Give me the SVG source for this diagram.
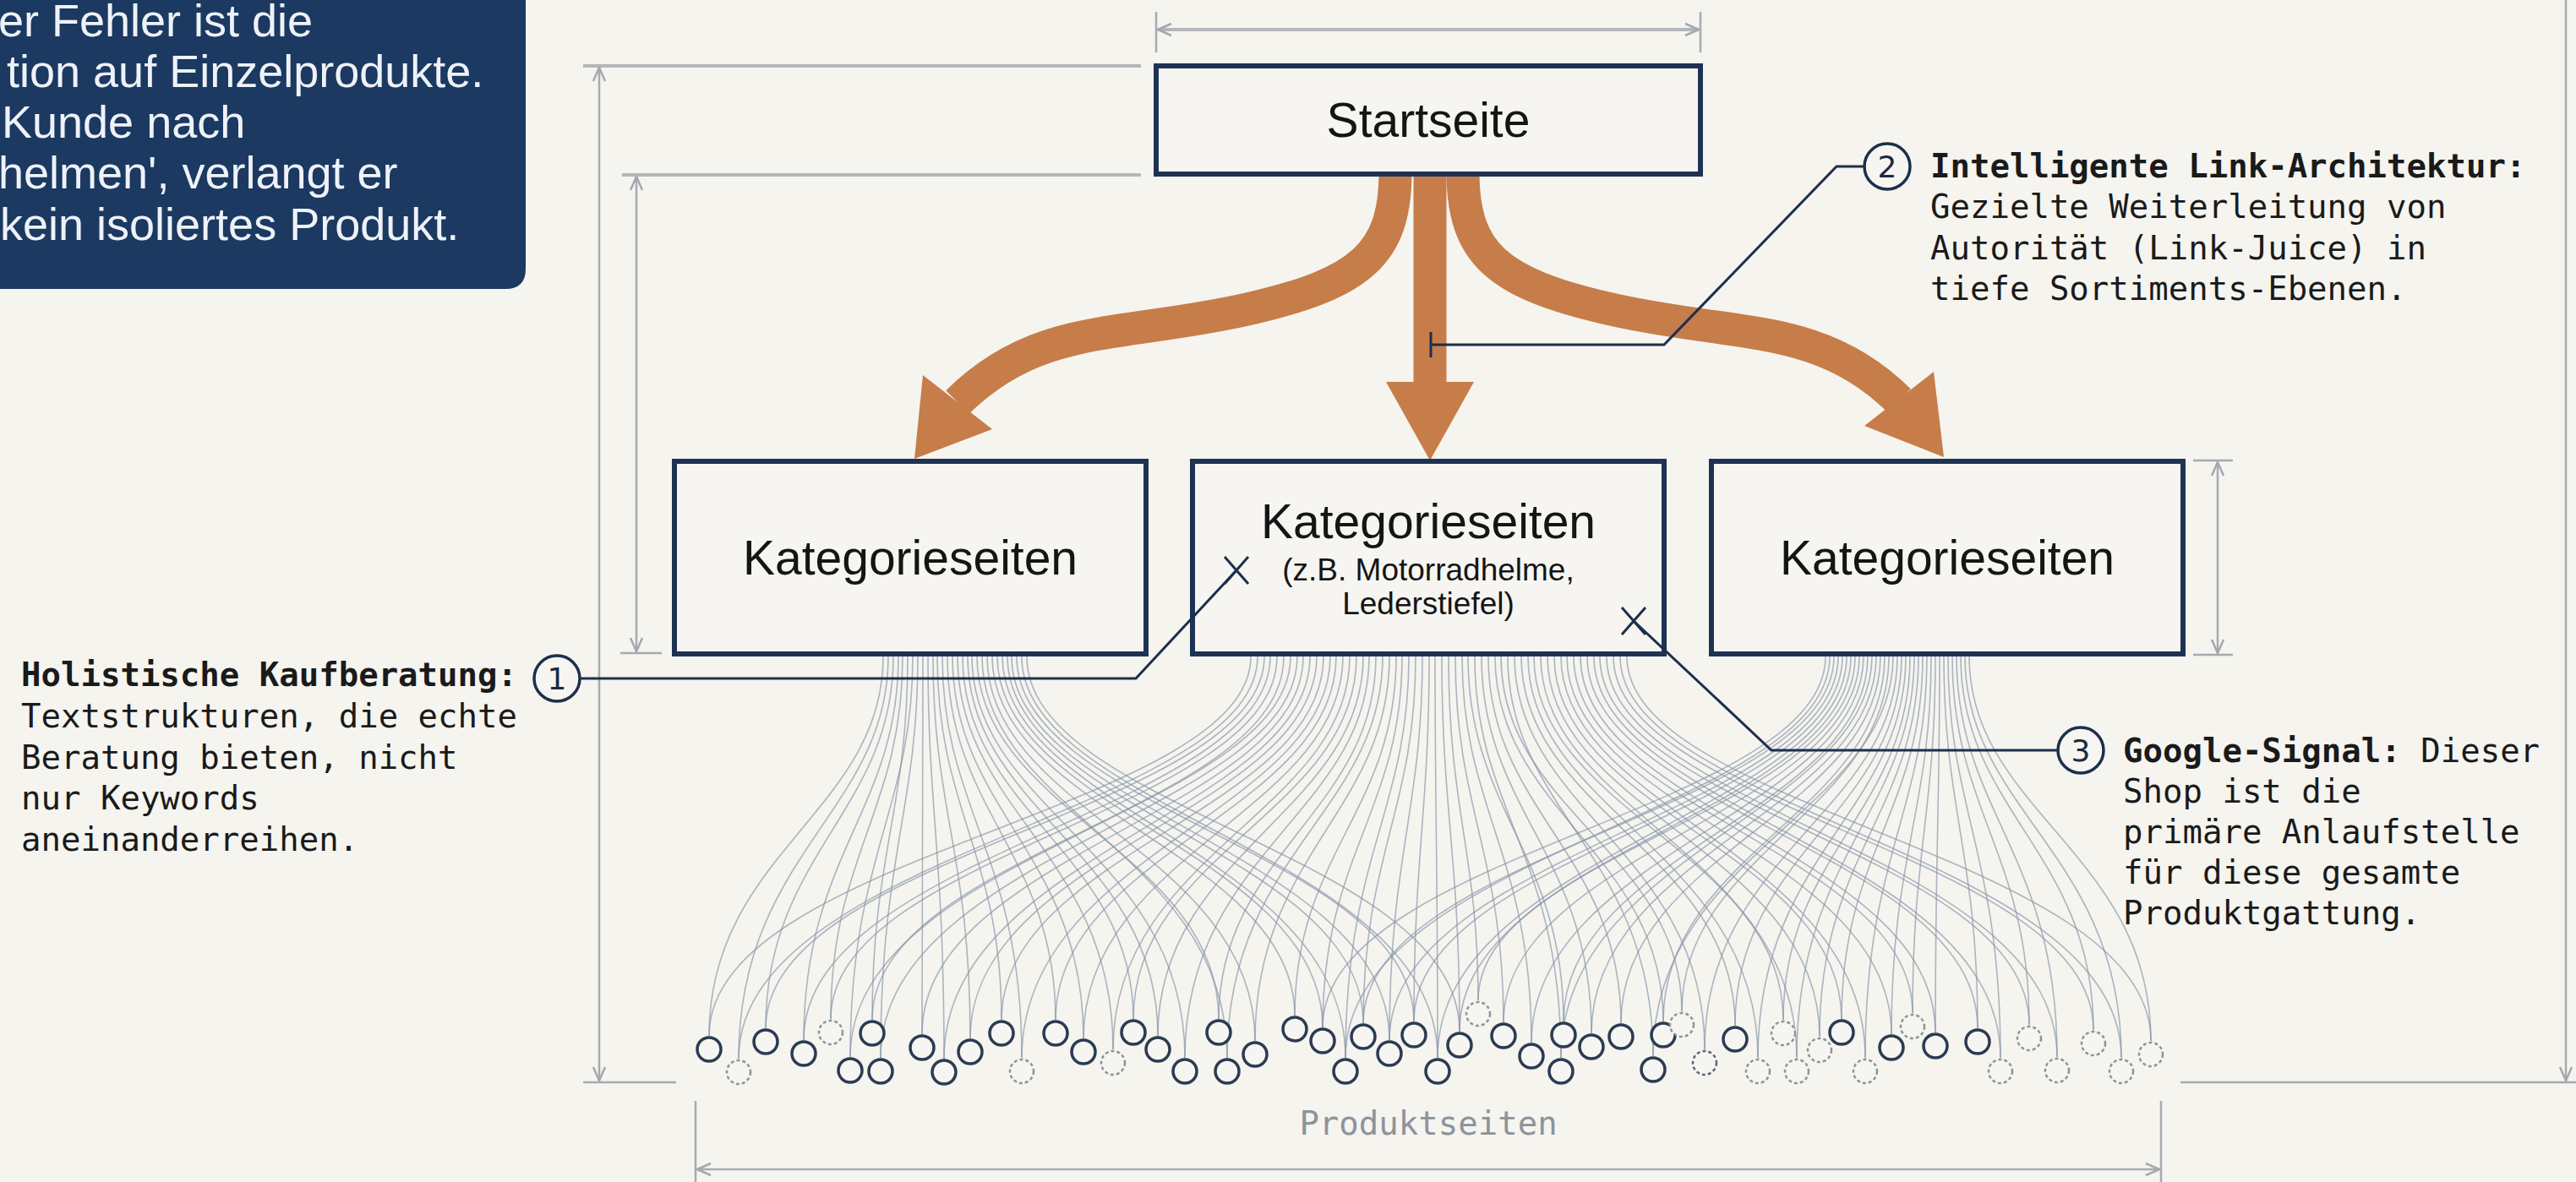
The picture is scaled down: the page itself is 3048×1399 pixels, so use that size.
<svg xmlns="http://www.w3.org/2000/svg" width="3048" height="1399" viewBox="0 0 3048 1399">
<style>
.title{font-family:"Liberation Sans",Arial,sans-serif;font-size:57px;fill:#151515;text-anchor:middle}
.sub{font-family:"Liberation Sans",Arial,sans-serif;font-size:37px;fill:#151515;text-anchor:middle}
.dark{font-family:"Liberation Sans",Arial,sans-serif;font-size:54px;fill:#eef2f8}
.mono{font-family:"DejaVu Sans Mono","Liberation Mono",monospace;font-size:39px;fill:#1a1a1a}
.b{font-weight:bold}
.num{font-family:"DejaVu Sans",sans-serif;font-size:36px;fill:#1a2a44;text-anchor:middle}
.box{fill:#f6f5f1;stroke:#1e3354;stroke-width:6}
.dim{stroke:#a7abb0;stroke-width:2.5;fill:none}
.dimt{stroke:#b3b6ba;stroke-width:4;fill:none}
.fan path{stroke:#8795a8;stroke-width:1.6;fill:none;opacity:.68}
.lead{stroke:#1d2f4c;stroke-width:3;fill:none}
.arrow{stroke:#c67d49;fill:none;stroke-width:39}
.ahead{fill:#c67d49}
.p{fill:#f6f5f1;stroke:#2b3b52;stroke-width:3.5}
.pd{fill:#f6f5f1;stroke:#8e949c;stroke-width:2.5;stroke-dasharray:4 3}
.callout{fill:#f6f5f1;stroke:#1d2f4c;stroke-width:3.5}
</style>
<defs>
<marker id="dimArrow" viewBox="0 0 20 20" refX="19" refY="10" markerWidth="20" markerHeight="20" markerUnits="userSpaceOnUse" orient="auto-start-reverse">
<path d="M3 3 L19 10 L3 17" fill="none" stroke="#a3a8ae" stroke-width="2.5"/>
</marker>
</defs>
<rect width="3048" height="1399" fill="#f5f4ef"/>

<g id="info-box">
<path d="M-20 -20 H622 V318 Q622 342 598 342 H-20 Z" fill="#1b3961"/>
<text class="dark" x="-2" y="43">er Fehler ist die</text>
<text class="dark" x="8" y="103">tion auf Einzelprodukte.</text>
<text class="dark" x="2" y="163">Kunde nach</text>
<text class="dark" x="-2" y="223">helmen', verlangt er</text>
<text class="dark" x="0" y="284">kein isoliertes Produkt.</text>
</g>

<g id="dimensions">
<line class="dim" x1="1368" y1="14" x2="1368" y2="62"/>
<line class="dim" x1="2012" y1="14" x2="2012" y2="62"/>
<line class="dimt" x1="1370" y1="35" x2="2010" y2="35" marker-start="url(#dimArrow)" marker-end="url(#dimArrow)"/>
<line class="dimt" x1="690" y1="78" x2="1350" y2="78"/>
<line class="dimt" x1="736" y1="207" x2="1350" y2="207"/>
<line class="dim" x1="709" y1="80" x2="709" y2="1279" marker-start="url(#dimArrow)" marker-end="url(#dimArrow)"/>
<line class="dim" x1="690" y1="1281" x2="800" y2="1281"/>
<line class="dim" x1="753" y1="209" x2="753" y2="771" marker-start="url(#dimArrow)" marker-end="url(#dimArrow)"/>
<line class="dim" x1="734" y1="773" x2="783" y2="773"/>
<line class="dim" x1="2595" y1="545" x2="2642" y2="545"/>
<line class="dim" x1="2595" y1="775" x2="2642" y2="775"/>
<line class="dim" x1="2624" y1="547" x2="2624" y2="773" marker-start="url(#dimArrow)" marker-end="url(#dimArrow)"/>
<line class="dim" x1="3036" y1="-10" x2="3036" y2="1279" marker-end="url(#dimArrow)"/>
<line class="dim" x1="2580" y1="1281" x2="3048" y2="1281"/>
<line class="dim" x1="823" y1="1303" x2="823" y2="1399"/>
<line class="dim" x1="2557" y1="1303" x2="2557" y2="1399"/>
<line class="dim" x1="825" y1="1384" x2="2555" y2="1384" marker-start="url(#dimArrow)" marker-end="url(#dimArrow)"/>
<text class="mono" x="1690" y="1343" text-anchor="middle" style="fill:#8d939b">Produktseiten</text>
</g>

<g id="connectors">
<g class="fan">
<path d="M1045 777C1045 960 839 1010 839 1226"/>
<path d="M1051 777C1051 960 874 1010 874 1253"/>
<path d="M1057 777C1057 960 906 1010 906 1217"/>
<path d="M1063 777C1063 960 951 1010 951 1231"/>
<path d="M1068 777C1068 960 983 1010 983 1206"/>
<path d="M1074 777C1074 960 1032 1010 1032 1207"/>
<path d="M1080 777C1080 960 1006 1010 1006 1251"/>
<path d="M1086 777C1086 960 1042 1010 1042 1252"/>
<path d="M1092 777C1092 960 1091 1010 1091 1224"/>
<path d="M1098 777C1098 960 1117 1010 1117 1253"/>
<path d="M1104 777C1104 960 1148 1010 1148 1229"/>
<path d="M1109 777C1109 960 1185 1010 1185 1207"/>
<path d="M1115 777C1115 960 1209 1010 1209 1252"/>
<path d="M1121 777C1121 960 1249 1010 1249 1207"/>
<path d="M1127 777C1127 960 1282 1010 1282 1229"/>
<path d="M1133 777C1133 960 1317 1010 1317 1242"/>
<path d="M1139 777C1139 960 1341 1010 1341 1206"/>
<path d="M1145 777C1145 960 1370 1010 1370 1226"/>
<path d="M1150 777C1150 960 1402 1010 1402 1252"/>
<path d="M1156 777C1156 960 1442 1010 1442 1206"/>
<path d="M1162 777C1162 960 1452 1010 1452 1252"/>
<path d="M1168 777C1168 960 1485 1010 1485 1232"/>
<path d="M1174 777C1174 960 1532 1010 1532 1202"/>
<path d="M1180 777C1180 960 1565 1010 1565 1216"/>
<path d="M1186 777C1186 960 1592 1010 1592 1252"/>
<path d="M1192 777C1192 960 1613 1010 1613 1211"/>
<path d="M1197 777C1197 960 1644 1010 1644 1231"/>
<path d="M1203 777C1203 960 1673 1010 1673 1209"/>
<path d="M1209 777C1209 960 1701 1010 1701 1252"/>
<path d="M1215 777C1215 960 1727 1010 1727 1221"/>
<path d="M1480 777C1480 960 839 1010 839 1226"/>
<path d="M1488 777C1488 960 874 1010 874 1253"/>
<path d="M1496 777C1496 960 906 1010 906 1217"/>
<path d="M1503 777C1503 960 951 1010 951 1231"/>
<path d="M1511 777C1511 960 983 1010 983 1206"/>
<path d="M1519 777C1519 960 1032 1010 1032 1207"/>
<path d="M1527 777C1527 960 1006 1010 1006 1251"/>
<path d="M1535 777C1535 960 1042 1010 1042 1252"/>
<path d="M1542 777C1542 960 1091 1010 1091 1224"/>
<path d="M1550 777C1550 960 1117 1010 1117 1253"/>
<path d="M1558 777C1558 960 1148 1010 1148 1229"/>
<path d="M1566 777C1566 960 1185 1010 1185 1207"/>
<path d="M1574 777C1574 960 1209 1010 1209 1252"/>
<path d="M1581 777C1581 960 1249 1010 1249 1207"/>
<path d="M1589 777C1589 960 1282 1010 1282 1229"/>
<path d="M1597 777C1597 960 1317 1010 1317 1242"/>
<path d="M1605 777C1605 960 1341 1010 1341 1206"/>
<path d="M1613 777C1613 960 1370 1010 1370 1226"/>
<path d="M1620 777C1620 960 1402 1010 1402 1252"/>
<path d="M1628 777C1628 960 1442 1010 1442 1206"/>
<path d="M1636 777C1636 960 1452 1010 1452 1252"/>
<path d="M1644 777C1644 960 1485 1010 1485 1232"/>
<path d="M1652 777C1652 960 1532 1010 1532 1202"/>
<path d="M1659 777C1659 960 1565 1010 1565 1216"/>
<path d="M1667 777C1667 960 1592 1010 1592 1252"/>
<path d="M1675 777C1675 960 1613 1010 1613 1211"/>
<path d="M1683 777C1683 960 1644 1010 1644 1231"/>
<path d="M1691 777C1691 960 1673 1010 1673 1209"/>
<path d="M1698 777C1698 960 1701 1010 1701 1252"/>
<path d="M1706 777C1706 960 1727 1010 1727 1221"/>
<path d="M1714 777C1714 960 1749 1010 1749 1184"/>
<path d="M1722 777C1722 960 1779 1010 1779 1210"/>
<path d="M1730 777C1730 960 1812 1010 1812 1234"/>
<path d="M1737 777C1737 960 1850 1010 1850 1209"/>
<path d="M1745 777C1745 960 1847 1010 1847 1252"/>
<path d="M1753 777C1753 960 1883 1010 1883 1223"/>
<path d="M1761 777C1761 960 1918 1010 1918 1211"/>
<path d="M1769 777C1769 960 1968 1010 1968 1209"/>
<path d="M1776 777C1776 960 1990 1010 1990 1197"/>
<path d="M1784 777C1784 960 1956 1010 1956 1250"/>
<path d="M1792 777C1792 960 2017 1010 2017 1242"/>
<path d="M1800 777C1800 960 2053 1010 2053 1214"/>
<path d="M1808 777C1808 960 2080 1010 2080 1252"/>
<path d="M1815 777C1815 960 2110 1010 2110 1207"/>
<path d="M1823 777C1823 960 2126 1010 2126 1252"/>
<path d="M1831 777C1831 960 2153 1010 2153 1227"/>
<path d="M1839 777C1839 960 2179 1010 2179 1206"/>
<path d="M1847 777C1847 960 2207 1010 2207 1252"/>
<path d="M1854 777C1854 960 2238 1010 2238 1224"/>
<path d="M1862 777C1862 960 2263 1010 2263 1199"/>
<path d="M1870 777C1870 960 2290 1010 2290 1222"/>
<path d="M1878 777C1878 960 2340 1010 2340 1217"/>
<path d="M1886 777C1886 960 2367 1010 2367 1252"/>
<path d="M1893 777C1893 960 2401 1010 2401 1213"/>
<path d="M1901 777C1901 960 2434 1010 2434 1251"/>
<path d="M1909 777C1909 960 2477 1010 2477 1219"/>
<path d="M1917 777C1917 960 2510 1010 2510 1252"/>
<path d="M1925 777C1925 960 2545 1010 2545 1232"/>
<path d="M2160 777C2160 960 1565 1010 1565 1216"/>
<path d="M2165 777C2165 960 1592 1010 1592 1252"/>
<path d="M2170 777C2170 960 1613 1010 1613 1211"/>
<path d="M2175 777C2175 960 1644 1010 1644 1231"/>
<path d="M2180 777C2180 960 1673 1010 1673 1209"/>
<path d="M2185 777C2185 960 1701 1010 1701 1252"/>
<path d="M2190 777C2190 960 1727 1010 1727 1221"/>
<path d="M2195 777C2195 960 1749 1010 1749 1184"/>
<path d="M2200 777C2200 960 1779 1010 1779 1210"/>
<path d="M2205 777C2205 960 1812 1010 1812 1234"/>
<path d="M2210 777C2210 960 1850 1010 1850 1209"/>
<path d="M2215 777C2215 960 1847 1010 1847 1252"/>
<path d="M2220 777C2220 960 1883 1010 1883 1223"/>
<path d="M2225 777C2225 960 1918 1010 1918 1211"/>
<path d="M2230 777C2230 960 1968 1010 1968 1209"/>
<path d="M2235 777C2235 960 1990 1010 1990 1197"/>
<path d="M2240 777C2240 960 1956 1010 1956 1250"/>
<path d="M2245 777C2245 960 2017 1010 2017 1242"/>
<path d="M2250 777C2250 960 2053 1010 2053 1214"/>
<path d="M2255 777C2255 960 2080 1010 2080 1252"/>
<path d="M2260 777C2260 960 2110 1010 2110 1207"/>
<path d="M2265 777C2265 960 2126 1010 2126 1252"/>
<path d="M2270 777C2270 960 2153 1010 2153 1227"/>
<path d="M2275 777C2275 960 2179 1010 2179 1206"/>
<path d="M2280 777C2280 960 2207 1010 2207 1252"/>
<path d="M2285 777C2285 960 2238 1010 2238 1224"/>
<path d="M2290 777C2290 960 2263 1010 2263 1199"/>
<path d="M2295 777C2295 960 2290 1010 2290 1222"/>
<path d="M2300 777C2300 960 2340 1010 2340 1217"/>
<path d="M2305 777C2305 960 2367 1010 2367 1252"/>
<path d="M2310 777C2310 960 2401 1010 2401 1213"/>
<path d="M2315 777C2315 960 2434 1010 2434 1251"/>
<path d="M2320 777C2320 960 2477 1010 2477 1219"/>
<path d="M2325 777C2325 960 2510 1010 2510 1252"/>
<path d="M2330 777C2330 960 2545 1010 2545 1232"/>
</g>
<g id="flow-arrows">
<path class="arrow" d="M1651 207 C1650 300 1610 335 1480 365 C1330 400 1230 380 1133 476"/>
<polygon class="ahead" points="1082,543 1174,508 1092,444"/>
<line class="arrow" x1="1692" y1="207" x2="1692" y2="456"/>
<polygon class="ahead" points="1640,452 1744,452 1692,545"/>
<path class="arrow" d="M1731 207 C1732 300 1772 335 1902 365 C2052 400 2152 380 2247 474"/>
<polygon class="ahead" points="2300,541 2288,440 2206,504"/>
</g>
</g>

<g id="startseite">
<rect class="box" x="1368" y="78" width="644" height="128"/>
<text class="title" x="1690" y="162">Startseite</text>
</g>
<g id="kategorie-1">
<rect class="box" x="798" y="546" width="558" height="228"/>
<text class="title" x="1077" y="680">Kategorieseiten</text>
</g>
<g id="kategorie-2">
<rect class="box" x="1411" y="546" width="558" height="228"/>
<text class="title" x="1690" y="637">Kategorieseiten</text>
<text class="sub" x="1690" y="687">(z.B. Motorradhelme,</text>
<text class="sub" x="1690" y="727">Lederstiefel)</text>
</g>
<g id="kategorie-3">
<rect class="box" x="2025" y="546" width="558" height="228"/>
<text class="title" x="2304" y="680">Kategorieseiten</text>
</g>

<g id="leaders">
<path class="lead" d="M686 803 H1344 L1463 675"/>
<path class="lead" d="M1449 659 L1477 691 M1477 659 L1449 691"/>
<path class="lead" d="M2206 197 H2173 L1969 408 H1693 M1693 393 V423"/>
<path class="lead" d="M2435 888 H2096 L1933 735"/>
<path class="lead" d="M1919 719 L1947 751 M1947 719 L1919 751"/>
</g>

<g id="produktseiten">
<circle id="p1" class="p" cx="839" cy="1242" r="14"/>
<circle id="p2" class="pd" cx="874" cy="1269" r="14"/>
<circle id="p3" class="p" cx="906" cy="1233" r="14"/>
<circle id="p4" class="p" cx="951" cy="1247" r="14"/>
<circle id="p5" class="pd" cx="983" cy="1222" r="14"/>
<circle id="p6" class="p" cx="1032" cy="1223" r="14"/>
<circle id="p7" class="p" cx="1006" cy="1267" r="14"/>
<circle id="p8" class="p" cx="1042" cy="1268" r="14"/>
<circle id="p9" class="p" cx="1091" cy="1240" r="14"/>
<circle id="p10" class="p" cx="1117" cy="1269" r="14"/>
<circle id="p11" class="p" cx="1148" cy="1245" r="14"/>
<circle id="p12" class="p" cx="1185" cy="1223" r="14"/>
<circle id="p13" class="pd" cx="1209" cy="1268" r="14"/>
<circle id="p14" class="p" cx="1249" cy="1223" r="14"/>
<circle id="p15" class="p" cx="1282" cy="1245" r="14"/>
<circle id="p16" class="pd" cx="1317" cy="1258" r="14"/>
<circle id="p17" class="p" cx="1341" cy="1222" r="14"/>
<circle id="p18" class="p" cx="1370" cy="1242" r="14"/>
<circle id="p19" class="p" cx="1402" cy="1268" r="14"/>
<circle id="p20" class="p" cx="1442" cy="1222" r="14"/>
<circle id="p21" class="p" cx="1452" cy="1268" r="14"/>
<circle id="p22" class="p" cx="1485" cy="1248" r="14"/>
<circle id="p23" class="p" cx="1532" cy="1218" r="14"/>
<circle id="p24" class="p" cx="1565" cy="1232" r="14"/>
<circle id="p25" class="p" cx="1592" cy="1268" r="14"/>
<circle id="p26" class="p" cx="1613" cy="1227" r="14"/>
<circle id="p27" class="p" cx="1644" cy="1247" r="14"/>
<circle id="p28" class="p" cx="1673" cy="1225" r="14"/>
<circle id="p29" class="p" cx="1701" cy="1268" r="14"/>
<circle id="p30" class="p" cx="1727" cy="1237" r="14"/>
<circle id="p31" class="pd" cx="1749" cy="1200" r="14"/>
<circle id="p32" class="p" cx="1779" cy="1226" r="14"/>
<circle id="p33" class="p" cx="1812" cy="1250" r="14"/>
<circle id="p34" class="p" cx="1850" cy="1225" r="14"/>
<circle id="p35" class="p" cx="1847" cy="1268" r="14"/>
<circle id="p36" class="p" cx="1883" cy="1239" r="14"/>
<circle id="p37" class="p" cx="1918" cy="1227" r="14"/>
<circle id="p38" class="p" cx="1968" cy="1225" r="14"/>
<circle id="p39" class="pd" cx="1990" cy="1213" r="14"/>
<circle id="p40" class="p" cx="1956" cy="1266" r="14"/>
<circle id="p41" class="pd" cx="2017" cy="1258" r="14" style="stroke:#5f6875"/>
<circle id="p42" class="p" cx="2053" cy="1230" r="14"/>
<circle id="p43" class="pd" cx="2080" cy="1268" r="14"/>
<circle id="p44" class="pd" cx="2110" cy="1223" r="14"/>
<circle id="p45" class="pd" cx="2126" cy="1268" r="14"/>
<circle id="p46" class="pd" cx="2153" cy="1243" r="14"/>
<circle id="p47" class="p" cx="2179" cy="1222" r="14"/>
<circle id="p48" class="pd" cx="2207" cy="1268" r="14"/>
<circle id="p49" class="p" cx="2238" cy="1240" r="14"/>
<circle id="p50" class="pd" cx="2263" cy="1215" r="14"/>
<circle id="p51" class="p" cx="2290" cy="1238" r="14"/>
<circle id="p52" class="p" cx="2340" cy="1233" r="14"/>
<circle id="p53" class="pd" cx="2367" cy="1268" r="14"/>
<circle id="p54" class="pd" cx="2401" cy="1229" r="14"/>
<circle id="p55" class="pd" cx="2434" cy="1267" r="14"/>
<circle id="p56" class="pd" cx="2477" cy="1235" r="14"/>
<circle id="p57" class="pd" cx="2510" cy="1268" r="14"/>
<circle id="p58" class="pd" cx="2545" cy="1248" r="14"/>
</g>

<g id="annotation-1">
<circle class="callout" cx="659" cy="803" r="27"/>
<text class="num" x="659" y="816">1</text>
<text class="mono b" x="25" y="812">Holistische Kaufberatung:</text>
<text class="mono" x="25" y="861">Textstrukturen, die echte</text>
<text class="mono" x="25" y="910">Beratung bieten, nicht</text>
<text class="mono" x="25" y="958">nur Keywords</text>
<text class="mono" x="25" y="1007">aneinanderreihen.</text>
</g>
<g id="annotation-2">
<circle class="callout" cx="2233" cy="197" r="27"/>
<text class="num" x="2233" y="210">2</text>
<text class="mono b" x="2284" y="210">Intelligente Link-Architektur:</text>
<text class="mono" x="2284" y="258">Gezielte Weiterleitung von</text>
<text class="mono" x="2284" y="307">Autorität (Link-Juice) in</text>
<text class="mono" x="2284" y="355">tiefe Sortiments-Ebenen.</text>
</g>
<g id="annotation-3">
<circle class="callout" cx="2462" cy="888" r="27"/>
<text class="num" x="2462" y="901">3</text>
<text class="mono" x="2512" y="902"><tspan class="b">Google-Signal:</tspan> Dieser</text>
<text class="mono" x="2512" y="950">Shop ist die</text>
<text class="mono" x="2512" y="998">primäre Anlaufstelle</text>
<text class="mono" x="2512" y="1046">für diese gesamte</text>
<text class="mono" x="2512" y="1094">Produktgattung.</text>
</g>
</svg>
